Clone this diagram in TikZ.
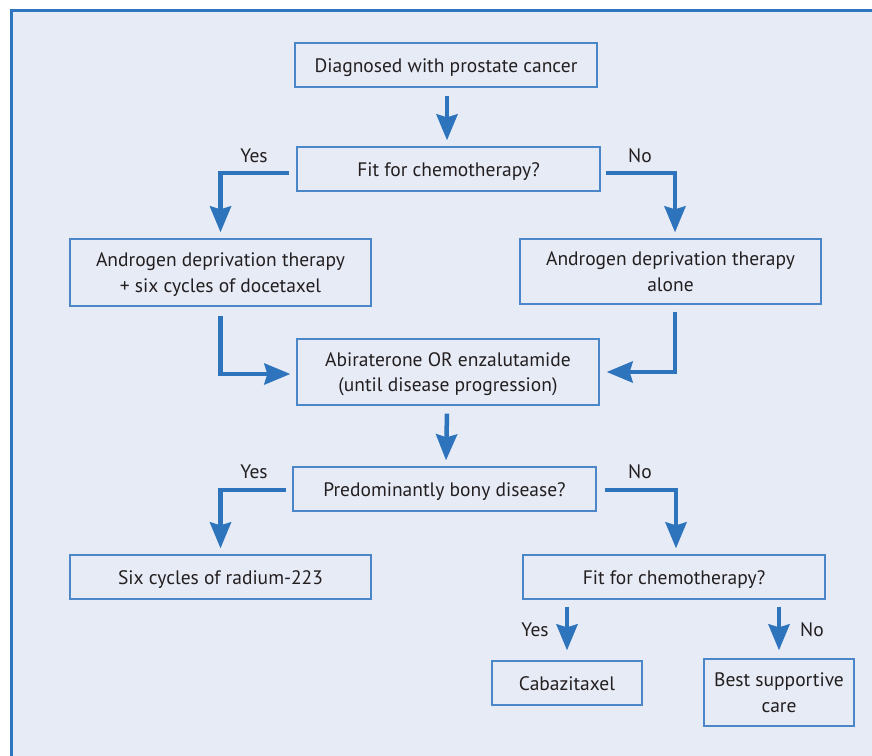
\documentclass[tikz,border=0pt]{standalone}
\usepackage{fontspec}
\setmainfont{PT Sans}
\usetikzlibrary{arrows.meta}
\definecolor{bg}{HTML}{E7EBF6}
\definecolor{framec}{HTML}{2F76C0}
\definecolor{boxc}{HTML}{4A86C8}
\definecolor{arrc}{HTML}{2E74BC}
\definecolor{txt}{HTML}{231F20}
\begin{document}
\begin{tikzpicture}[x=1pt,y=-1pt,
  every node/.style={text=txt,font=\fontsize{19.5}{25.5}\selectfont},
  box/.style={draw=boxc,line width=1.3pt,fill=bg,inner sep=0pt,align=center},
  one/.style={box,text height=14pt,text depth=0pt},
  two/.style={box,text height=39.5pt,text depth=0pt},
  arr/.style={draw=arrc,line width=4.5pt,-{Stealth[length=26pt,width=21pt,inset=3pt]}},
  lbl/.style={inner sep=0pt}]
\useasboundingbox (0,0) rectangle (872,755);
\begin{scope}
\clip (0,0) rectangle (872,755);
\draw[draw=framec,line width=3pt,fill=bg] (11,10) rectangle (890,775);
\end{scope}
% boxes
\node[one,minimum width=302pt,minimum height=44pt] (diag) at (446,65) {Diagnosed with prostate cancer};
\node[one,minimum width=303pt,minimum height=44pt] (fit1) at (448.5,169) {Fit for chemotherapy?};
\node[two,minimum width=301pt,minimum height=67pt] (adt1) at (220.5,272.5) {Androgen deprivation therapy\\+ six cycles of docetaxel};
\node[two,minimum width=301pt,minimum height=65pt] (adt2) at (670.5,271.5) {Androgen deprivation therapy\\alone};
\node[two,minimum width=302pt,minimum height=66pt] (abir) at (448,372) {Abiraterone OR enzalutamide\\(until disease progression)};
\node[one,minimum width=303pt,minimum height=44pt] (bony) at (444.5,489) {Predominantly bony disease?};
\node[one,minimum width=301pt,minimum height=44pt] (rad) at (220.5,577) {Six cycles of radium-223};
\node[one,minimum width=302pt,minimum height=44pt] (fit2) at (674,577) {Fit for chemotherapy?};
\node[one,minimum width=150pt,minimum height=44pt] (caba) at (567,683) {Cabazitaxel};
\node[two,minimum width=150pt,minimum height=67pt] (bsc) at (779,692.5) {Best supportive\\care};
% connectors
\draw[arr] ([xshift=1pt,yshift=-8pt]diag.south) -- ([xshift=-1.5pt,yshift=6pt]fit1.north);
\draw[arr] ([xshift=-7pt,yshift=-4pt]fit1.west) -| ([yshift=6pt]adt1.north);
\draw[arr] ([xshift=5pt,yshift=-4pt]fit1.east) -| ([xshift=4.5pt,yshift=6pt]adt2.north);
\draw[arr] ([yshift=-9pt]adt1.south) |- ([xshift=-6pt,yshift=-2pt]abir.west);
\draw[arr] ([xshift=4.5pt,yshift=-7pt]adt2.south) |- ([xshift=7pt]abir.east);
\draw[arr] ([xshift=-1pt,yshift=-8pt]abir.south) -- ([xshift=1.5pt,yshift=6pt]bony.north);
\draw[arr] ([xshift=-6pt,yshift=-1pt]bony.west) -| ([yshift=6pt]rad.north);
\draw[arr] ([xshift=8pt,yshift=-1pt]bony.east) -| ([xshift=2pt,yshift=6pt]fit2.north);
\draw[arr] ([xshift=-107pt,yshift=-7pt]fit2.south) -- ([yshift=10pt]caba.north);
\draw[arr] ([xshift=105pt,yshift=-7pt]fit2.south) -- ([yshift=8pt]bsc.north);
% labels
\node[lbl] (y1) at (254,156) {Yes};
\node[lbl] (n1) at (640,156) {No};
\node[lbl] (y2) at (254,472) {Yes};
\node[lbl] (n2) at (640,472) {No};
\node[lbl] (y3) at (535,630) {Yes};
\node[lbl] (n3) at (812,630) {No};
\end{tikzpicture}
\end{document}
